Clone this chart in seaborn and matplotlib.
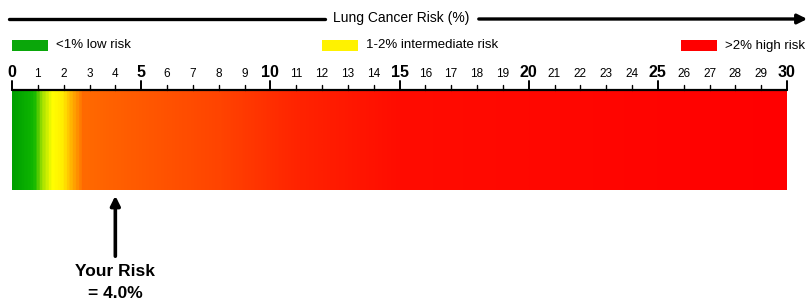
import numpy as np
import seaborn as sns
import matplotlib as mpl
from matplotlib import pyplot as plt
from matplotlib.colors import LinearSegmentedColormap

# data
risk_min, risk_max = 0, 30
your_risk = 4.0
tick_values = list(range(0, 31))
legend_labels = ['<1% low risk', '1-2% intermediate risk', '>2% high risk']
legend_colors = ['#0aa70a', '#fff200', '#ff0000']
legend_x = [0, 12, 25.9]   # where each legend swatch starts (risk units)

# gradient stops (risk %, colour)
grad_stops = [0, 0.8, 1.1, 1.5, 1.9, 2.3, 2.7, 4, 8, 11, 15, 30]
grad_colors = ['#00a000', '#10b800', '#a0e000', '#ffff00', '#ffee00', '#ffaa00',
               '#ff6a00', '#ff6000', '#ff4400', '#ff2400', '#ff0c00', '#ff0000']

sns.set_style('white')
plt.rcParams['font.family'] = ['Liberation Sans', 'DejaVu Sans']
plt.rcParams['text.color'] = 'black'

W, H = 810, 301
fig = plt.figure(figsize=(W / 100, H / 100), dpi=100)
ax = fig.add_axes([0, 0, 1, 1])
px = 775 / (risk_max - risk_min)          # pixels per risk unit
x0 = 12
ax.set_xlim(risk_min - x0 / px, risk_min + (W - x0) / px)
ax.set_ylim(H, 0)
ax.axis('off')


def to_x(pix):
    # pixel column -> risk units
    return (pix - x0) / px


# colour bar
cmap = LinearSegmentedColormap.from_list(
    'risk', [((s - risk_min) / (risk_max - risk_min), c) for s, c in zip(grad_stops, grad_colors)])
grad = np.linspace(risk_min, risk_max, 1200)[None, :]
ax.imshow(grad, cmap=cmap, aspect='auto', extent=[risk_min, risk_max, 190, 91],
          interpolation='bilinear', zorder=1)

# scale
ax.plot([risk_min, risk_max], [90, 90], color='black', lw=1.6, zorder=3)
for t in tick_values:
    major = t % 5 == 0
    ax.plot([t, t], [90, 81 if major else 85], color='black', lw=1.4 if major else 1.0)
    ax.text(t, 80, str(t), ha='center', va='bottom',
            fontsize=11.5 if major else 8.5, fontweight='bold' if major else 'normal')

# title with arrow line
ax.text(to_x(401), 18, 'Lung Cancer Risk (%)', ha='center', va='center', fontsize=10)
ax.plot([to_x(9), to_x(325)], [19, 19], color='black', lw=2.4)
ax.annotate('', xy=(to_x(W), 19), xytext=(to_x(476), 19),
            arrowprops=dict(arrowstyle='-|>', color='black', lw=2.4, mutation_scale=14))

# legend
for lab, col, lx in zip(legend_labels, legend_colors, legend_x):
    ax.add_patch(mpl.patches.Rectangle((lx, 40), 36 / px, 11, color=col, lw=0))
    ax.text(lx + 44 / px, 45.5, lab, ha='left', va='center', fontsize=9.5)

# your risk marker
ax.annotate('', xy=(your_risk, 193), xytext=(your_risk, 259),
            arrowprops=dict(arrowstyle='-|>', color='black', lw=2.6, mutation_scale=14))
ax.text(your_risk, 271, 'Your Risk', ha='center', va='center', fontsize=12.5, fontweight='bold')
ax.text(your_risk, 293, '= 4.0%', ha='center', va='center', fontsize=12.5, fontweight='bold')

fig.savefig('out.png', dpi=100)
